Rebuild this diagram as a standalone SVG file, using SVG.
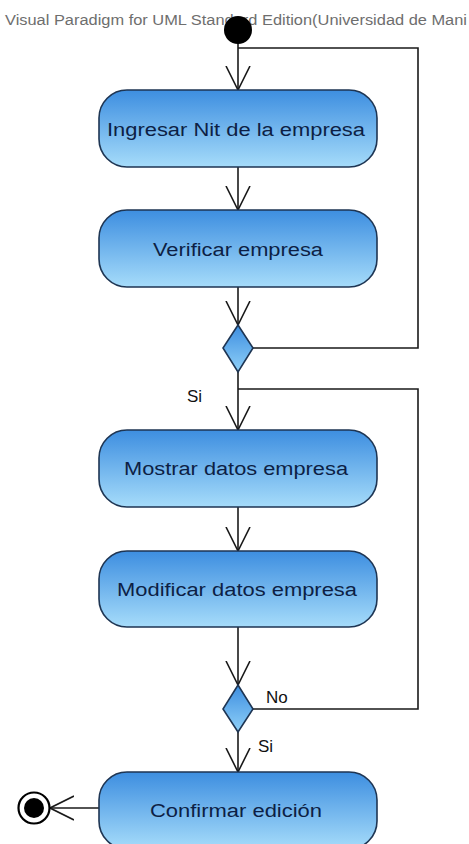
<svg xmlns="http://www.w3.org/2000/svg" width="469" height="844" viewBox="0 0 469 844">
  <defs>
    <linearGradient id="actFill" x1="0" y1="0" x2="0" y2="1">
      <stop offset="0" stop-color="#3d8ee0"/>
      <stop offset="1" stop-color="#a6dcfa"/>
    </linearGradient>
    <linearGradient id="decFill" x1="0" y1="0" x2="0" y2="1">
      <stop offset="0" stop-color="#3d8ee0"/>
      <stop offset="1" stop-color="#8fd0f8"/>
    </linearGradient>
    <marker id="open" viewBox="0 0 24 26" refX="24" refY="13" markerWidth="24" markerHeight="26" markerUnits="userSpaceOnUse" orient="auto">
      <path d="M0,1 L24,13 L0,25" fill="none" stroke="#1a1a1a" stroke-width="1.6"/>
    </marker>
  </defs>
  <style>
    .act rect { fill: url(#actFill); stroke: #1e3553; stroke-width: 1.6; }
    .act text { font-family: "Liberation Sans", Arial, sans-serif; font-size: 18px; fill: #0d1f45; text-anchor: middle; }
    .dec polygon { fill: url(#decFill); stroke: #1e3553; stroke-width: 1.6; }
    .edge { fill: none; stroke: #1a1a1a; stroke-width: 1.6; }
    .lbl { font-family: "Liberation Sans", Arial, sans-serif; font-size: 17px; fill: #111; }
    .hdr { font-family: "Liberation Sans", Arial, sans-serif; font-size: 14px; fill: #6e6e6e; }
  </style>

  <rect width="469" height="844" fill="#ffffff"/>
  <text class="hdr" x="5" y="25" textLength="462" lengthAdjust="spacingAndGlyphs">Visual Paradigm for UML Standard Edition(Universidad de Mani</text>

  <g id="connectors">
    <path class="edge" d="M238,43 V90" marker-end="url(#open)"/>
    <path class="edge" d="M238,167 V210" marker-end="url(#open)"/>
    <path class="edge" d="M238,287 V325" marker-end="url(#open)"/>
    <path class="edge" d="M253,348 H418 V48 H238"/>
    <path class="edge" d="M238,372 V430" marker-end="url(#open)"/>
    <path class="edge" d="M238,507 V551" marker-end="url(#open)"/>
    <path class="edge" d="M238,627 V685" marker-end="url(#open)"/>
    <path class="edge" d="M253,709 H418 V389 H238"/>
    <path class="edge" d="M238,732 V772" marker-end="url(#open)"/>
    <path class="edge" d="M99,808 H50" marker-end="url(#open)"/>
    <text class="lbl" x="187" y="402">Si</text>
    <text class="lbl" x="266" y="703">No</text>
    <text class="lbl" x="258" y="752">Si</text>
  </g>

  <g id="start">
    <circle cx="238" cy="30" r="14" fill="#000"/>
  </g>

  <g id="ingresarNit" class="act">
    <rect x="99" y="90" width="278" height="77" rx="28" ry="28"/>
    <text x="236" y="136" textLength="258" lengthAdjust="spacingAndGlyphs">Ingresar Nit de la empresa</text>
  </g>

  <g id="verificarEmpresa" class="act">
    <rect x="99" y="210" width="278" height="77" rx="28" ry="28"/>
    <text x="238" y="256" textLength="170" lengthAdjust="spacingAndGlyphs">Verificar empresa</text>
  </g>

  <g id="decision1" class="dec">
    <polygon points="238,325 253,348 238,372 223,348"/>
  </g>

  <g id="mostrarDatos" class="act">
    <rect x="99" y="430" width="278" height="77" rx="28" ry="28"/>
    <text x="236" y="475" textLength="224" lengthAdjust="spacingAndGlyphs">Mostrar datos empresa</text>
  </g>

  <g id="modificarDatos" class="act">
    <rect x="99" y="551" width="278" height="76" rx="28" ry="28"/>
    <text x="237" y="596" textLength="240" lengthAdjust="spacingAndGlyphs">Modificar datos empresa</text>
  </g>

  <g id="decision2" class="dec">
    <polygon points="238,685 253,709 238,732 223,709"/>
  </g>

  <g id="confirmarEdicion" class="act">
    <rect x="99" y="772" width="278" height="77" rx="28" ry="28"/>
    <text x="236" y="817" textLength="172" lengthAdjust="spacingAndGlyphs">Confirmar edición</text>
  </g>

  <g id="end">
    <circle cx="34" cy="808" r="15.5" fill="#fff" stroke="#000" stroke-width="2.2"/>
    <circle cx="34" cy="808" r="10" fill="#000"/>
  </g>
</svg>
